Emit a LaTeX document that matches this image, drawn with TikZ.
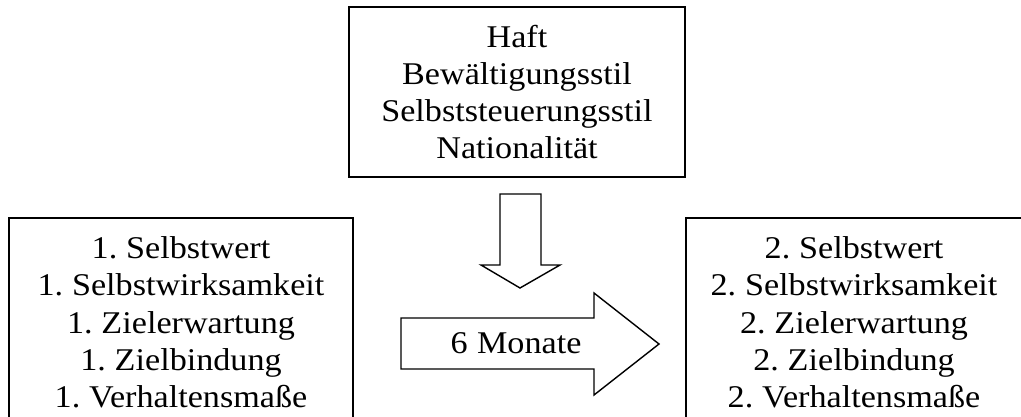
\documentclass[tikz,border=0pt]{standalone}
\usepackage{fontspec}
\setmainfont[FakeStretch=1.08,WordSpace=0.7]{Liberation Serif}
\usetikzlibrary{positioning}

\begin{document}
\begin{tikzpicture}[x=0.02cm,y=-0.02cm]
    \tikzstyle{every node}=[font=\fontsize{18}{21.2}\selectfont,align=center];
    \tikzstyle{box}=[draw,line width=0.8pt,inner sep=0pt];
    \tikzstyle{blockarrow}=[draw,line width=0.8pt,line join=miter];

    \useasboundingbox (0,0) rectangle (1021,416);
    \clip (0,0) rectangle (1021,416);

    \node[box,minimum width=6.72cm,minimum height=3.4cm] (faktoren) at (517,92)
        {Haft\\Bewältigungsstil\\Selbststeuerungsstil\\Nationalität};

    \node[box,minimum width=6.88cm,minimum height=4.18cm] (erste) at (181,322.5)
        {1. Selbstwert\\1. Selbstwirksamkeit\\1. Zielerwartung\\1. Zielbindung\\1. Verhaltensmaße};
    \node[box,minimum width=6.72cm,minimum height=4.18cm] (zweite) at (854,322.5)
        {2. Selbstwert\\2. Selbstwirksamkeit\\2. Zielerwartung\\2. Zielbindung\\2. Verhaltensmaße};

    \draw[blockarrow] (500,194) -- (541,194) -- (541,265) -- (560,265) -- (520,288)
        -- (481,265) -- (500,265) -- cycle;
    \draw[blockarrow] (401,318) -- (594,318) -- (594,293) -- (659,344) -- (594,395)
        -- (594,369) -- (401,369) -- cycle;
    \node[anchor=base] (monate) at (516,353) {6\hspace{0.3em}Monate};
\end{tikzpicture}
\end{document}
